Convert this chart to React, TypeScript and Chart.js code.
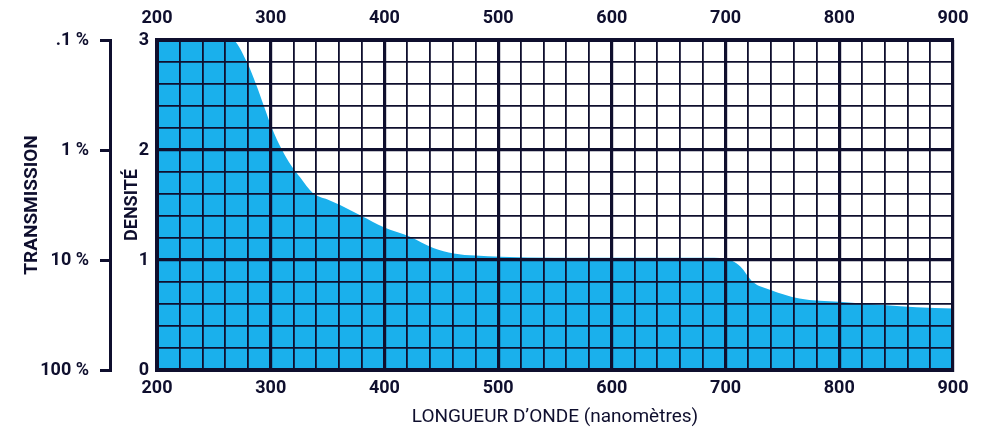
import React, { useEffect, useRef } from "react";
import { Chart, registerables } from "chart.js";

Chart.register(...registerables);

// Data
const wavelengths = [200, 230, 260, 266, 279, 287, 294, 301, 310, 318, 326, 337, 350, 361, 380, 399, 423, 443, 461, 480, 502, 550, 600, 650, 690, 700, 706, 713, 724, 739, 765, 800, 839, 868, 900];
const densities = [3, 3, 3, 3.0, 2.8, 2.6, 2.4, 2.2, 2.0, 1.86, 1.75, 1.61, 1.55, 1.5, 1.4, 1.3, 1.21, 1.11, 1.06, 1.04, 1.03, 1.02, 1.02, 1.02, 1.02, 1.01, 0.99, 0.94, 0.8, 0.73, 0.65, 0.62, 0.59, 0.57, 0.56];
const densityTicks = [0, 1, 2, 3];
const transmissionLabels = ["100 %", "10 %", "1 %", ".1 %"];
const xAxisTitle = "LONGUEUR D’ONDE (nanomètres)";
const densityTitle = "DENSITÉ";
const transmissionTitle = "TRANSMISSION";

const INK = "#0f0f2e";
const FILL = "#1ab0ec";
const FONT = 'Roboto, "Liberation Sans", sans-serif';

const isMajorX = (v: number) => Math.abs(v % 100) < 1e-6;
const isMajorY = (v: number) => Math.abs(v - Math.round(v)) < 1e-6;

export default function App() {
  const ref = useRef<HTMLCanvasElement | null>(null);
  useEffect(() => {
    document.body.style.margin = "0";
    const canvas = ref.current;
    if (!canvas) return;
    const chart = new Chart(canvas, {
      type: "line",
      data: {
        datasets: [
          {
            data: wavelengths.map((w, i) => ({ x: w, y: densities[i] })),
            borderWidth: 0,
            borderColor: FILL,
            backgroundColor: FILL,
            fill: "origin",
            pointRadius: 0,
            cubicInterpolationMode: "monotone",
          },
        ],
      },
      options: {
        animation: false,
        responsive: true,
        maintainAspectRatio: false,
        layout: { padding: { right: 31, left: 0, top: 0, bottom: 0 } },
        plugins: { legend: { display: false }, tooltip: { enabled: false } },
        scales: {
          x: {
            type: "linear",
            position: "bottom",
            min: 200,
            max: 900,
            afterFit: (s: any) => { s.height = 63; },
            grid: {
              z: 1,
              color: INK,
              lineWidth: (c: any) => (c.tick && isMajorX(c.tick.value) ? 3.2 : 1.8),
              drawTicks: false,
            },
            border: { display: true, color: INK, width: 4, z: 2 },
            ticks: {
              stepSize: 20,
              autoSkip: false,
              maxRotation: 0,
              padding: 8,
              color: INK,
              font: { family: FONT, size: 18, weight: "bold" },
              callback: (v: any) => (isMajorX(Number(v)) ? String(v) : ""),
            },
            title: {
              display: true,
              text: xAxisTitle,
              color: INK,
              font: { family: FONT, size: 19, weight: "normal" },
              padding: { top: 0, bottom: 4 },
            },
          },
          x2: {
            type: "linear",
            position: "top",
            min: 200,
            max: 900,
            afterFit: (s: any) => { s.height = 40; },
            grid: { drawOnChartArea: false, drawTicks: false },
            border: { display: true, color: INK, width: 4, z: 2 },
            ticks: {
              stepSize: 100,
              autoSkip: false,
              maxRotation: 0,
              padding: 11,
              color: INK,
              font: { family: FONT, size: 18, weight: "bold" },
            },
          },
          y: {
            type: "linear",
            position: "left",
            min: 0,
            max: 3,
            weight: 0,
            afterFit: (s: any) => { s.width = 47; },
            grid: {
              z: 1,
              color: INK,
              lineWidth: (c: any) => (c.tick && isMajorY(c.tick.value) ? 3.2 : 1.8),
              drawTicks: false,
            },
            border: { display: true, color: INK, width: 4, z: 2 },
            ticks: {
              stepSize: 0.2,
              autoSkip: false,
              padding: 8,
              color: INK,
              font: { family: FONT, size: 18, weight: "bold" },
              callback: (v: any) => {
                const n = Number(v);
                return isMajorY(n) && densityTicks.includes(Math.round(n)) ? String(Math.round(n)) : "";
              },
            },
            title: {
              display: true,
              text: densityTitle,
              color: INK,
              font: { family: FONT, size: 18, weight: "bold" },
              padding: { top: 12, bottom: 0 },
            },
          },
          yT: {
            type: "linear",
            position: "left",
            min: 0,
            max: 3,
            weight: 1,
            afterFit: (s: any) => { s.width = 110; },
            grid: {
              drawOnChartArea: false,
              drawTicks: true,
              tickLength: 10,
              color: INK,
              lineWidth: 3,
            },
            border: { display: true, color: INK, width: 3 },
            ticks: {
              stepSize: 1,
              autoSkip: false,
              padding: 11,
              color: INK,
              font: { family: FONT, size: 18, weight: "bold" },
              callback: (v: any) => transmissionLabels[Math.round(Number(v))] ?? "",
            },
            title: {
              display: true,
              text: transmissionTitle,
              color: INK,
              font: { family: FONT, size: 19, weight: "bold" },
              padding: { top: 21, bottom: 0 },
            },
          },
        },
      } as any,
    });
    return () => chart.destroy();
  }, []);
  return (
    <div style={{ width: "984px", height: "433px", position: "relative" }}>
      <canvas ref={ref} />
    </div>
  );
}
